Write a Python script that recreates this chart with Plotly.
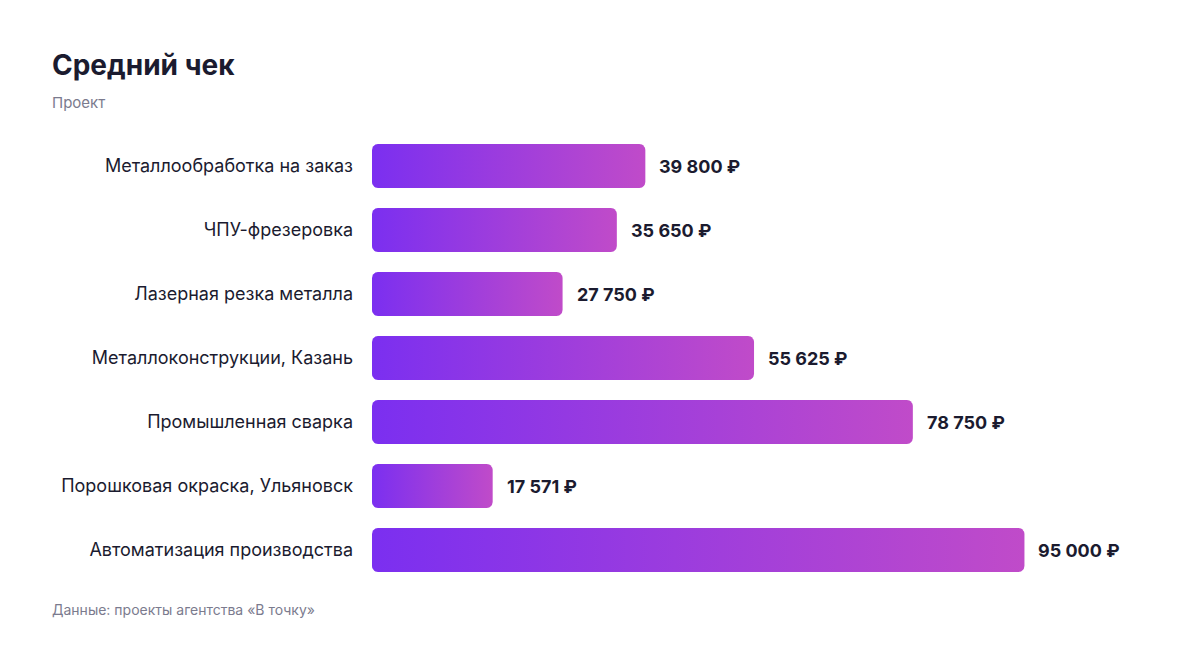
import numpy as np
import plotly.graph_objects as go

# данные
categories = ["Металлообработка на заказ", "ЧПУ-фрезеровка", "Лазерная резка металла",
              "Металлоконструкции, Казань", "Промышленная сварка",
              "Порошковая окраска, Ульяновск", "Автоматизация производства"]
values = [39800, 35650, 27750, 55625, 78750, 17571, 95000]
value_labels = ["39 800 ₽", "35 650 ₽", "27 750 ₽", "55 625 ₽", "78 750 ₽", "17 571 ₽", "95 000 ₽"]

W, H = 1200, 648
ML, MR, MT, MB = 364, 108, 126, 74   # страница добавляет отступ 8px
XMAX = 106000
px_x = (W - ML - MR) / XMAX             # пикселей на рубль
px_y = (H - MT - MB) / len(categories)  # пикселей на строку
bar_h = 44 / px_y
rad = 6

FONT = "Inter, sans-serif"
DARK = "#1b1b2f"
GRAY = "#7b7b8e"
LEFT = (42 - ML) / (W - ML - MR)   # левый край заголовков в долях области графика


def rounded_bar(x0, x1, yc, h, r_px):
    # прямоугольник со скруглёнными углами в координатах данных
    rx = r_px / px_x
    ry = r_px / px_y
    y0, y1 = yc - h / 2, yc + h / 2
    t = np.linspace(0, np.pi / 2, 8)
    xs, ys = [], []
    for cx, cy, a0 in [(x1 - rx, y0 + ry, -np.pi / 2), (x1 - rx, y1 - ry, 0),
                       (x0 + rx, y1 - ry, np.pi / 2), (x0 + rx, y0 + ry, np.pi)]:
        xs += list(cx + rx * np.cos(a0 + t))
        ys += list(cy + ry * np.sin(a0 + t))
    xs.append(xs[0])
    ys.append(ys[0])
    return xs, ys


fig = go.Figure()
annots = []
for i, v in enumerate(values):
    xs, ys = rounded_bar(0, v, i, bar_h, rad)
    fig.add_trace(go.Scatter(
        x=xs, y=ys, mode="lines", fill="toself", line=dict(width=0),
        fillgradient=dict(type="horizontal",
                          colorscale=[[0, "#7b2ff0"], [1, "#c04bc9"]]),
        hoverinfo="skip", showlegend=False))
    annots.append(dict(x=v, y=i, text="<b>" + value_labels[i] + "</b>",
                       xanchor="left", xshift=12, showarrow=False,
                       font=dict(size=18, color=DARK, family=FONT)))

annots += [
    dict(xref="paper", yref="paper", x=LEFT, y=1, yshift=MT - 57,
         xanchor="left", yanchor="middle", text="<b>Средний чек</b>", showarrow=False,
         font=dict(size=28, color=DARK, family=FONT)),
    dict(xref="paper", yref="paper", x=LEFT, y=1, yshift=MT - 94,
         xanchor="left", yanchor="middle", text="Проект", showarrow=False,
         font=dict(size=15, color=GRAY, family=FONT)),
    dict(xref="paper", yref="paper", x=LEFT, y=0, yshift=-(601 - (H - MB)),
         xanchor="left", yanchor="middle", text="Данные: проекты агентства «В точку»",
         showarrow=False, font=dict(size=14, color=GRAY, family=FONT)),
]

fig.update_layout(
    width=W, height=H,
    margin=dict(l=ML, r=MR, t=MT, b=MB),
    paper_bgcolor="white", plot_bgcolor="white",
    font=dict(family=FONT, color=DARK),
    xaxis=dict(range=[0, XMAX], visible=False, fixedrange=True),
    yaxis=dict(range=[len(categories) - 0.5, -0.5], tickvals=list(range(len(categories))),
               ticktext=categories, showgrid=False, zeroline=False, showline=False,
               ticks="", ticklabelstandoff=18, tickfont=dict(size=18, color=DARK, family=FONT),
               fixedrange=True),
    annotations=annots,
)

fig.write_html("out.html")
